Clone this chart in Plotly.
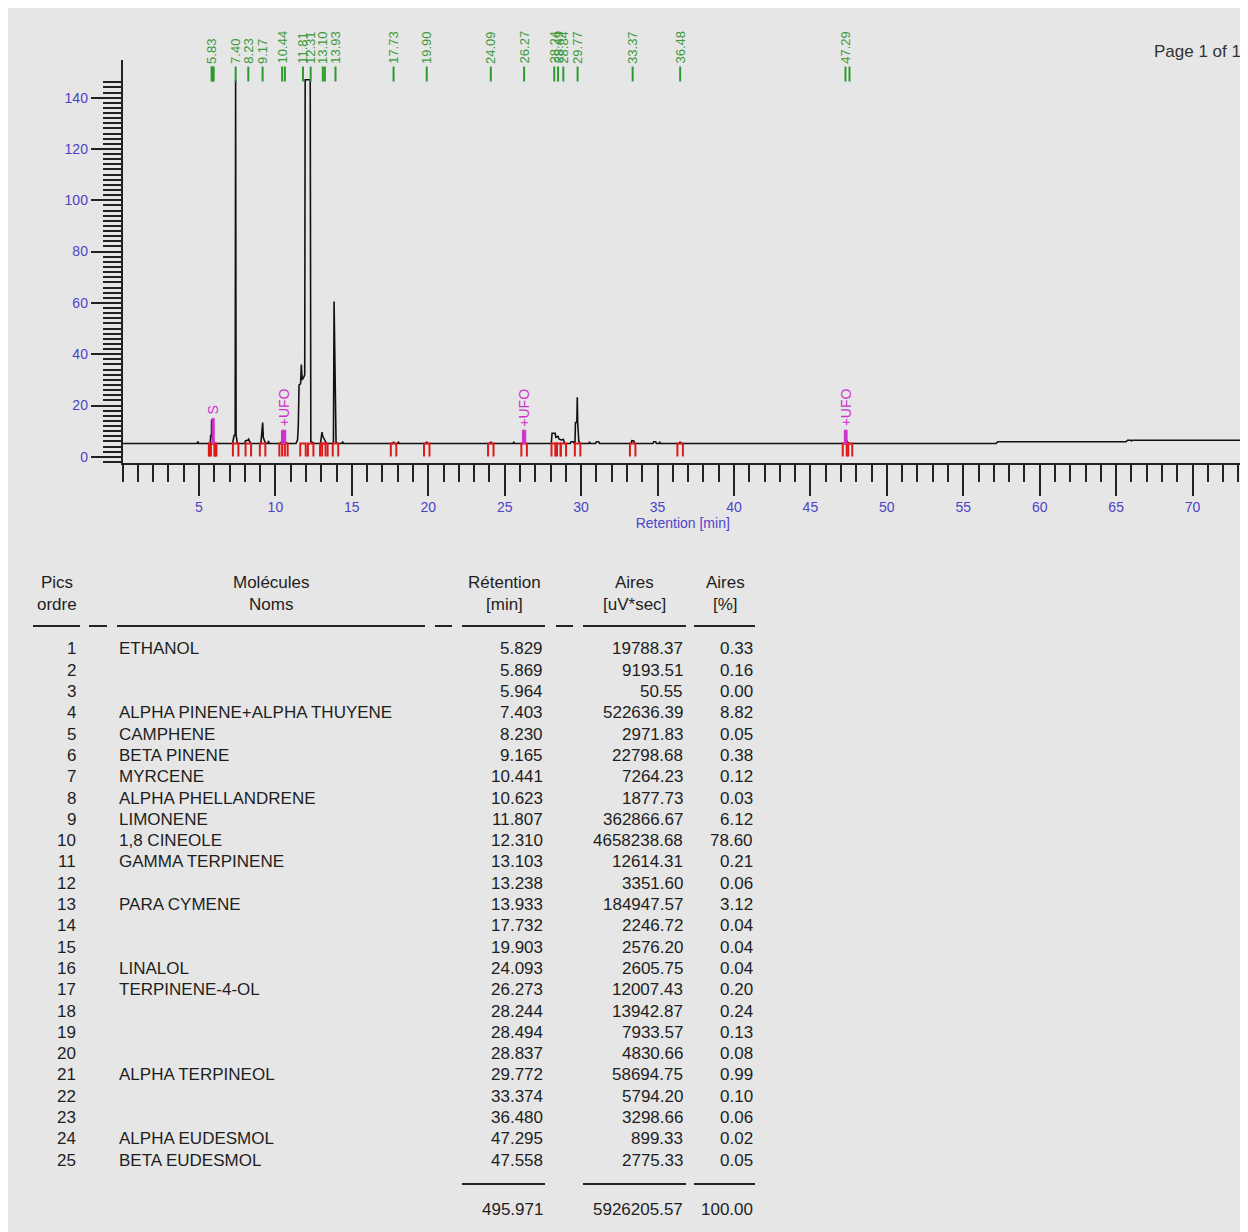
import plotly.graph_objects as go

# ---------------- data ----------------
peak_order = list(range(1, 26))
peak_names = ["ETHANOL", "", "", "ALPHA PINENE+ALPHA THUYENE", "CAMPHENE", "BETA PINENE",
              "MYRCENE", "ALPHA PHELLANDRENE", "LIMONENE", "1,8 CINEOLE", "GAMMA TERPINENE", "",
              "PARA CYMENE", "", "", "LINALOL", "TERPINENE-4-OL", "", "", "", "ALPHA TERPINEOL",
              "", "", "ALPHA EUDESMOL", "BETA EUDESMOL"]
peak_rt = [5.829, 5.869, 5.964, 7.403, 8.230, 9.165, 10.441, 10.623, 11.807, 12.310, 13.103,
           13.238, 13.933, 17.732, 19.903, 24.093, 26.273, 28.244, 28.494, 28.837, 29.772,
           33.374, 36.480, 47.295, 47.558]
peak_area = [19788.37, 9193.51, 50.55, 522636.39, 2971.83, 22798.68, 7264.23, 1877.73,
             362866.67, 4658238.68, 12614.31, 3351.60, 184947.57, 2246.72, 2576.20, 2605.75,
             12007.43, 13942.87, 7933.57, 4830.66, 58694.75, 5794.20, 3298.66, 899.33, 2775.33]
peak_pct = [0.33, 0.16, 0.00, 8.82, 0.05, 0.38, 0.12, 0.03, 6.12, 78.60, 0.21, 0.06, 3.12,
            0.04, 0.04, 0.04, 0.20, 0.24, 0.13, 0.08, 0.99, 0.10, 0.06, 0.02, 0.05]
total_rt_txt = "495.971"
total_area_txt = "5926205.57"
total_pct_txt = "100.00"

# labelled retention marks at the top
label_rt = [5.83, 7.40, 8.23, 9.17, 10.44, 11.81, 12.31, 13.10, 13.93, 17.73, 19.90, 24.09,
            26.27, 28.24, 28.49, 28.84, 29.77, 33.37, 36.48, 47.29]
label_txt = ["5.83", "7.40", "8.23", "9.17", "10.44", "11.81", "12.31", "13.10", "13.93",
             "17.73", "19.90", "24.09", "26.27", "28.24", "28.49", "28.84", "29.77", "33.37",
             "36.48", "47.29"]

# events (magenta)
event_label = ["S", "+UFO", "+UFO", "+UFO"]
event_start = [5.86, 10.40, 26.16, 47.22]
event_end = [6.00, 10.68, 26.38, 47.40]
event_top = [15.0, 10.4, 10.4, 10.4]

# chromatogram signal (time [min], intensity)
signal_t = [0.00, 4.88, 4.93, 4.98,
            5.74, 5.77, 5.82, 5.83, 5.845, 5.87, 5.90, 5.96, 6.02,
            7.20, 7.30, 7.37, 7.40, 7.43, 7.50, 7.56,
            8.00, 8.05, 8.20, 8.25, 8.32, 8.38,
            9.05, 9.10, 9.17, 9.21, 9.30, 9.36,
            9.50, 9.55, 9.60,
            10.30, 10.44, 10.62, 10.80,
            11.35, 11.45, 11.50, 11.55, 11.65, 11.70, 11.75, 11.85, 11.92, 11.95, 12.28, 12.32, 12.45, 12.55,
            12.95, 13.00, 13.05, 13.10, 13.20, 13.25, 13.35,
            13.75, 13.80, 13.84, 13.89, 13.93, 13.97, 14.05,
            14.35, 14.40, 14.45,
            17.68, 17.73, 17.78, 18.00, 18.05, 18.10,
            19.85, 19.90, 19.95,
            24.04, 24.09, 24.14,
            25.55, 25.60, 25.65,
            26.20, 26.27, 26.34,
            28.05, 28.10, 28.30, 28.35, 28.49, 28.55, 28.70, 28.84, 28.92,
            29.30, 29.35, 29.50, 29.55,
            29.60, 29.63, 29.72, 29.75, 29.78, 29.85, 29.95,
            30.50, 30.55, 30.60,
            30.95, 31.00, 31.15, 31.20,
            33.28, 33.32, 33.45, 33.50,
            34.70, 34.75, 34.88, 34.93, 35.10, 35.15, 35.20,
            36.43, 36.48, 36.53,
            47.35, 47.42, 47.50,
            57.15, 57.25,
            65.65, 65.75, 65.95, 66.00, 66.05,
            73.30]
signal_v = [5.2, 5.2, 6.0, 5.2,
            5.2, 8.3, 8.3, 14.6, 8.0, 10.0, 6.5, 5.8, 5.2,
            5.2, 8.3, 8.5, 147.0, 8.5, 5.6, 5.2,
            5.2, 6.3, 6.5, 6.9, 6.0, 5.2,
            5.2, 8.5, 13.4, 7.5, 5.6, 5.2,
            5.2, 6.2, 5.2,
            5.2, 6.0, 5.8, 5.2,
            5.2, 6.5, 12.0, 28.0, 28.5, 36.0, 30.0, 31.0, 32.0, 147.0, 147.0, 6.0, 5.5, 5.2,
            5.2, 8.0, 9.6, 8.0, 7.0, 6.0, 5.2,
            5.2, 6.0, 60.5, 33.0, 33.0, 5.5, 5.2,
            5.2, 6.0, 5.2,
            5.2, 5.9, 5.2, 5.2, 5.7, 5.2,
            5.2, 5.9, 5.2,
            5.2, 5.9, 5.2,
            5.2, 5.8, 5.2,
            5.2, 6.0, 5.2,
            5.2, 9.2, 9.2, 7.6, 8.0, 7.0, 6.6, 6.8, 5.2,
            5.2, 5.9, 5.9, 5.2,
            5.2, 13.4, 13.4, 23.2, 13.0, 6.0, 5.2,
            5.2, 5.8, 5.2,
            5.2, 5.9, 5.9, 5.2,
            5.2, 6.3, 6.2, 5.2,
            5.2, 5.9, 5.9, 5.2, 5.2, 5.8, 5.2,
            5.2, 5.9, 5.2,
            5.2, 5.9, 5.2,
            5.2, 5.9,
            5.9, 6.5, 6.5, 6.2, 6.5,
            6.5]

# ---------------- style constants ----------------
FONT = "Liberation Sans, Arial, sans-serif"
AXIS_BLUE = "#4b44c6"
GREEN = "#2e9a2e"
RED = "#dd1a1a"
MAGENTA = "#cc33cc"
INK = "#222222"
BASE = 5.2
RED_BOTTOM = 0.1
RED_HALF = 0.18
GREEN_LOW, GREEN_HIGH = 146.3, 152.1

fig = go.Figure()

# chromatogram
fig.add_trace(go.Scatter(x=signal_t, y=signal_v, mode="lines",
                         line=dict(color="#111111", width=1.6), hoverinfo="skip"))

# red integration markers
rx, ry = [], []
for t in peak_rt:
    rx += [t - RED_HALF, t - RED_HALF, t + RED_HALF, t + RED_HALF, None]
    ry += [RED_BOTTOM, BASE, BASE, RED_BOTTOM, None]
fig.add_trace(go.Scatter(x=rx, y=ry, mode="lines", line=dict(color=RED, width=2),
                         hoverinfo="skip"))

# green retention ticks
gx, gy = [], []
for t in peak_rt:
    gx += [t, t, None]
    gy += [GREEN_LOW, GREEN_HIGH, None]
fig.add_trace(go.Scatter(x=gx, y=gy, mode="lines", line=dict(color=GREEN, width=2),
                         hoverinfo="skip", cliponaxis=False))

# magenta events
mx, my = [], []
for s, e, top in zip(event_start, event_end, event_top):
    mx += [s, s, e, e, s, None]
    my += [BASE, top, top, BASE, BASE, None]
fig.add_trace(go.Scatter(x=mx, y=my, mode="lines", fill="toself", fillcolor=MAGENTA,
                         line=dict(color=MAGENTA, width=1), hoverinfo="skip"))

annotations = []
for t, txt in zip(label_rt, label_txt):
    annotations.append(dict(x=t, y=GREEN_HIGH + 0.3, xref="x", yref="y", text=txt,
                            textangle=-90, xanchor="center", yanchor="bottom", showarrow=False,
                            font=dict(family=FONT, size=13, color="#3c9a3c")))
for s, e, top, lab in zip(event_start, event_end, event_top, event_label):
    annotations.append(dict(x=(s + e) / 2, y=top + 0.6, xref="x", yref="y", text=lab,
                            textangle=-90, xanchor="center", yanchor="bottom", showarrow=False,
                            font=dict(family=FONT, size=14, color=MAGENTA)))

annotations.append(dict(x=1, y=0.964, xref="paper", yref="paper", text="Page 1 of 1",
                        xanchor="right", yanchor="middle", showarrow=False, xshift=-5,
                        font=dict(family=FONT, size=17, color="#333333")))

# ---------------- table (x2 = page pixels, y2 = row index) ----------------
TF = dict(family=FONT, size=17, color="#1e1e1e")
col_order_x, col_name_x, col_rt_x, col_area_x, col_pct_x = 78, 117, 545, 685, 755
headers = [(57, "Pics", "ordre"), (271, "Molécules", "Noms"), (504, "Rétention", "[min]"),
           (634, "Aires", "[uV*sec]"), (725, "Aires", "[%]")]
for hx, l1, l2 in headers:
    annotations.append(dict(x=hx, y=-2.094, xref="x2", yref="y2", text=l1, xanchor="center",
                            yanchor="middle", showarrow=False, font=TF, yshift=-1))
    annotations.append(dict(x=hx, y=-1.06, xref="x2", yref="y2", text=l2, xanchor="center",
                            yanchor="middle", showarrow=False, font=TF, yshift=-1))

for o, n, rt, ar, pc in zip(peak_order, peak_names, peak_rt, peak_area, peak_pct):
    cells = [(col_order_x, str(o), "right"), (col_name_x, n, "left"),
             (col_rt_x, f"{rt:.3f}", "right"), (col_area_x, f"{ar:.2f}", "right"),
             (col_pct_x, f"{pc:.2f}", "right")]
    for cx, txt, anc in cells:
        if txt:
            annotations.append(dict(x=cx, y=o, xref="x2", yref="y2", text=txt, xanchor=anc,
                                    yanchor="middle", showarrow=False, font=TF, yshift=-2))

for cx, txt in [(col_rt_x, total_rt_txt), (col_area_x, total_area_txt), (col_pct_x, total_pct_txt)]:
    annotations.append(dict(x=cx, y=27.34, xref="x2", yref="y2", text=txt, xanchor="right",
                            yanchor="middle", showarrow=False, font=TF, yshift=-2))

head_segments = [(33, 80), (89, 107), (117, 425), (435, 452), (462, 545), (556, 573),
                 (583, 686), (694, 755)]
total_segments = [(462, 545), (583, 686), (694, 755)]
lx, ly = [], []
for a, b in head_segments:
    lx += [a, b, None]
    ly += [0.016, 0.016, None]
for a, b in total_segments:
    lx += [a, b, None]
    ly += [26.22, 26.22, None]
fig.add_trace(go.Scatter(x=lx, y=ly, xaxis="x2", yaxis="y2", mode="lines",
                         line=dict(color=INK, width=2), hoverinfo="skip"))

tickfont = dict(family=FONT, size=14, color=AXIS_BLUE)
fig.update_layout(
    width=1240, height=1224,
    margin=dict(l=0, r=0, t=0, b=0),
    paper_bgcolor="#e6e6e6", plot_bgcolor="rgba(0,0,0,0)",
    showlegend=False,
    annotations=annotations,
    xaxis=dict(domain=[0.09234, 0.99597], range=[0, 73.3], anchor="y",
               showline=True, linecolor=INK, linewidth=1.5, showgrid=False, zeroline=False,
               ticks="outside", ticklen=31, tickwidth=1.5, tickcolor=INK,
               tickvals=list(range(0, 71, 5)),
               ticktext=[""] + [str(v) for v in range(5, 71, 5)],
               tickfont=tickfont,
               minor=dict(tickvals=list(range(0, 74)), ticks="outside", ticklen=17,
                          tickwidth=1.5, tickcolor=INK, showgrid=False),
               title=dict(text="Retention [min]", standoff=0,
                          font=dict(family=FONT, size=14, color=AXIS_BLUE))),
    yaxis=dict(domain=[0.627859, 0.957516], range=[-2.3, 154.7], anchor="x",
               showline=True, linecolor=INK, linewidth=1.5, showgrid=False, zeroline=False,
               ticks="outside", ticklen=30, tickwidth=1.5, tickcolor=INK,
               tickvals=list(range(0, 141, 10)),
               ticktext=[str(v) if v % 20 == 0 else "" for v in range(0, 141, 10)],
               tickfont=tickfont,
               minor=dict(tickvals=list(range(-2, 147, 2)), ticks="outside", ticklen=18,
                          tickwidth=1.5, tickcolor=INK, showgrid=False)),
    xaxis2=dict(domain=[0, 1], range=[8, 1248], anchor="y2", visible=False, fixedrange=True),
    yaxis2=dict(domain=[0, 1], range=[28.375, -29.0], anchor="x2", visible=False,
                fixedrange=True),
)

fig.write_html("out.html",
               post_script="document.documentElement.style.overflow='hidden';"
                           "document.body.style.overflow='hidden';")
